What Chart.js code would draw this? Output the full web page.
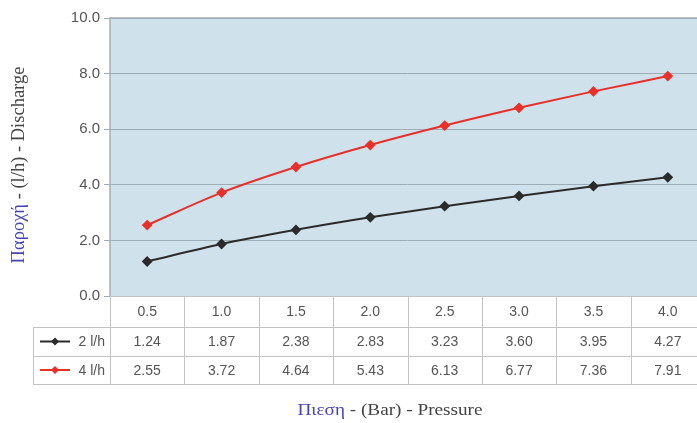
<!DOCTYPE html>
<html>
<head>
<meta charset="utf-8">
<script src="https://cdn.jsdelivr.net/npm/chart.js@4"></script>
<style>
  html, body { margin: 0; padding: 0; background: #fff; overflow: hidden; }
  #wrap { width: 712px; height: 423px; }
</style>
</head>
<body>
<div id="wrap"><canvas id="myChart" width="712" height="423"></canvas></div>
<script>
const pressures = ['0.5', '1.0', '1.5', '2.0', '2.5', '3.0', '3.5', '4.0'];
const seriesNames = ['2 l/h', '4 l/h'];
const flow2 = [1.24, 1.87, 2.38, 2.83, 3.23, 3.60, 3.95, 4.27];
const flow4 = [2.55, 3.72, 4.64, 5.43, 6.13, 6.77, 7.36, 7.91];
const seriesColors = ['#2b2b2b', '#e8302a'];

const ctx = document.getElementById('myChart');

// fondo azul del area del grafico
const fondo = {
  id: 'fondo',
  beforeDraw(chart) {
    const { ctx, chartArea: a } = chart;
    ctx.save();
    ctx.fillStyle = '#cfe2eb';
    ctx.fillRect(a.left, a.top, a.right - a.left, a.bottom - a.top);
    ctx.strokeStyle = '#acacac';
    ctx.lineWidth = 1.5;
    ctx.beginPath();
    ctx.moveTo(a.left, a.bottom);
    ctx.lineTo(a.left, a.top);
    ctx.lineTo(a.right, a.top);
    ctx.stroke();
    ctx.restore();
  }
};

// tabla de datos y titulos
const tabla = {
  id: 'tabla',
  afterDraw(chart) {
    const { ctx, chartArea: a } = chart;
    const x = chart.scales.x;
    const step = x.getPixelForValue(1) - x.getPixelForValue(0);
    const top = a.bottom, r1 = top + 31, r2 = r1 + 29, r3 = r2 + 28;
    const leftCol = 33;
    ctx.save();
    ctx.strokeStyle = '#c4c4c4';
    ctx.lineWidth = 1;
    ctx.beginPath();
    ctx.moveTo(a.left, top + 0.5); ctx.lineTo(a.right, top + 0.5);
    [r1, r2, r3].forEach(y => { ctx.moveTo(leftCol, y + 0.5); ctx.lineTo(a.right, y + 0.5); });
    ctx.moveTo(leftCol + 0.5, r1); ctx.lineTo(leftCol + 0.5, r3);
    for (let i = 0; i <= pressures.length; i++) {
      const xx = Math.round(a.left + i * step) + 0.5;
      ctx.moveTo(xx, top); ctx.lineTo(xx, r3);
    }
    ctx.stroke();

    ctx.font = '14px "Liberation Sans", Arial, sans-serif';
    ctx.fillStyle = '#555';
    ctx.textAlign = 'center';
    ctx.textBaseline = 'middle';
    pressures.forEach((p, i) => {
      const cx = x.getPixelForValue(i);
      ctx.fillText(p, cx, (top + r1) / 2 + 1);
      ctx.fillText(flow2[i].toFixed(2), cx, (r1 + r2) / 2 + 1);
      ctx.fillText(flow4[i].toFixed(2), cx, (r2 + r3) / 2 + 1);
    });

    // leyenda dentro de la tabla
    [[r1, r2], [r2, r3]].forEach((rr, k) => {
      const y = (rr[0] + rr[1]) / 2;
      ctx.strokeStyle = seriesColors[k];
      ctx.fillStyle = seriesColors[k];
      ctx.lineWidth = 2;
      ctx.beginPath(); ctx.moveTo(40, y); ctx.lineTo(70, y); ctx.stroke();
      ctx.beginPath();
      ctx.moveTo(55, y - 4); ctx.lineTo(59, y); ctx.lineTo(55, y + 4); ctx.lineTo(51, y);
      ctx.closePath(); ctx.fill();
      ctx.fillStyle = '#555';
      ctx.textAlign = 'right';
      ctx.fillText(seriesNames[k], 105, y + 1);
    });

    // titulos de ejes
    ctx.textBaseline = 'middle';
    ctx.textAlign = 'left';
    ctx.font = '18.5px "Liberation Serif", "Times New Roman", serif';
    const yA = 'Παροχή', yB = ' - (l/h) - Discharge';
    const wY = ctx.measureText(yA + yB).width;
    ctx.save();
    ctx.translate(19, 165);
    ctx.rotate(-Math.PI / 2);
    ctx.fillStyle = '#4646b0';
    ctx.fillText(yA, -wY / 2, 0);
    ctx.fillStyle = '#444';
    ctx.fillText(yB, -wY / 2 + ctx.measureText(yA).width, 0);
    ctx.restore();

    ctx.font = '16px "Liberation Serif", "Times New Roman", serif';
    const xA = 'Πιεση', xB = ' - (Bar) - Pressure';
    const wX = ctx.measureText(xA + xB).width;
    ctx.save();
    ctx.translate(390, 411);
    ctx.scale(1.2, 1);
    ctx.fillStyle = '#4646b0';
    ctx.fillText(xA, -wX / 2, 0);
    ctx.fillStyle = '#444';
    ctx.fillText(xB, -wX / 2 + ctx.measureText(xA).width, 0);
    ctx.restore();
    ctx.restore();
  }
};

new Chart(ctx, {
  type: 'line',
  data: {
    labels: pressures,
    datasets: [{
      label: seriesNames[0],
      data: flow2,
      borderColor: seriesColors[0],
      backgroundColor: seriesColors[0],
      borderWidth: 2,
      pointStyle: 'rectRot',
      pointRadius: 4,
      cubicInterpolationMode: 'monotone'
    }, {
      label: seriesNames[1],
      data: flow4,
      borderColor: seriesColors[1],
      backgroundColor: seriesColors[1],
      borderWidth: 2,
      pointStyle: 'rectRot',
      pointRadius: 4,
      cubicInterpolationMode: 'monotone'
    }]
  },
  options: {
    responsive: false,
    animation: false,
    layout: { padding: { top: 18, bottom: 127, left: 0, right: 7 } },
    plugins: {
      legend: { display: false },
      tooltip: { enabled: false }
    },
    scales: {
      x: { display: false, offset: true },
      y: {
        min: 0, max: 10,
        ticks: {
          stepSize: 2,
          color: '#555',
          padding: 4,
          font: { size: 15, family: '"Liberation Sans", Arial, sans-serif' },
          callback: v => Number(v).toFixed(1)
        },
        grid: { color: '#9dadb5', lineWidth: 1, tickLength: 6, drawTicks: true },
        border: { display: false },
        afterFit(scale) { scale.width = 110; }
      }
    }
  },
  plugins: [fondo, tabla]
});
</script>
</body>
</html>
